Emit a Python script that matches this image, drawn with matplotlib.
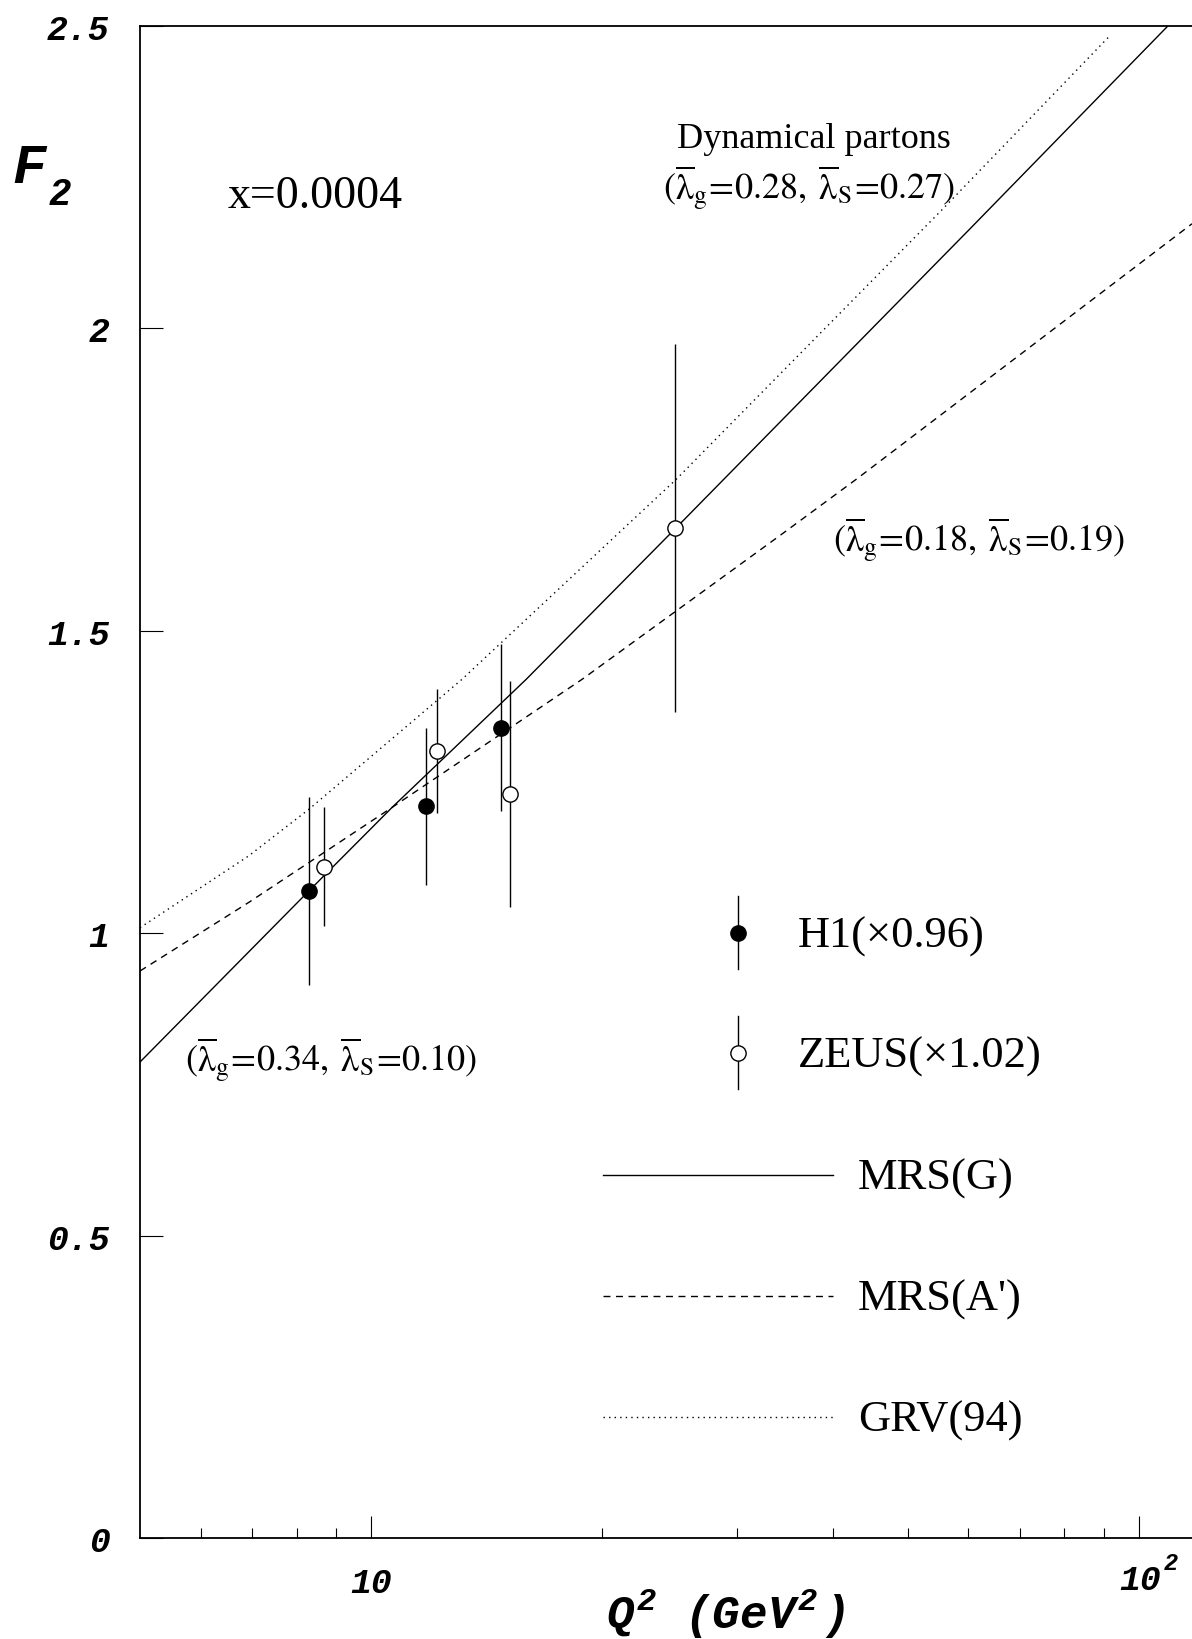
import matplotlib
matplotlib.use('Agg')
import matplotlib.pyplot as plt  # noqa: E402
from matplotlib.font_manager import FontProperties  # noqa: E402
from matplotlib.ticker import FixedLocator, FixedFormatter, NullFormatter  # noqa: E402

# --- fonts: serif body text, bold-italic mono for axis labels -----------------
plt.rcParams['font.family'] = ['Liberation Serif', 'DejaVu Serif']
plt.rcParams['mathtext.fontset'] = 'custom'
plt.rcParams['mathtext.rm'] = 'Liberation Mono:italic:bold'
plt.rcParams['mathtext.it'] = 'Liberation Mono:italic:bold'
plt.rcParams['mathtext.bf'] = 'Liberation Mono:italic:bold'

MONO = dict(family='Liberation Mono', weight='bold', style='italic')

# --- data ---------------------------------------------------------------------
# H1 (x0.96)
h1_q2 = [8.30, 11.79, 14.77]
h1_f2 = [1.070, 1.210, 1.340]
h1_err = [0.156, 0.130, 0.138]

# ZEUS (x1.02)
zeus_q2 = [8.69, 12.19, 15.19, 24.9]
zeus_f2 = [1.110, 1.301, 1.230, 1.670]
zeus_err = [0.098, 0.102, 0.187, 0.304]

# MRS(G), solid
mrsg_q2 = [5.0, 8.30, 10.65, 15.93, 24.95, 60.2, 109.1]
mrsg_f2 = [0.787, 1.070, 1.208, 1.420, 1.670, 2.164, 2.500]

# MRS(A'), dashed
mrsa_q2 = [5.0, 6.93, 10.65, 18.84, 34.04, 42.9, 117.3]
mrsa_f2 = [0.9375, 1.051, 1.208, 1.420, 1.657, 1.751, 2.173]

# GRV(94), dotted
grv_q2 = [5.0, 6.93, 8.30, 13.14, 24.95, 55.5, 91.7]
grv_f2 = [1.009, 1.128, 1.205, 1.420, 1.750, 2.197, 2.484]

y_ticks = [0, 0.5, 1, 1.5, 2, 2.5]
y_tick_labels = ['0', '0.5', '1', '1.5', '2', '2.5']
x_ticks = [10, 100]
x_tick_labels = ['10', '']
x_minor = [6, 7, 8, 9, 20, 30, 40, 50, 60, 70, 80, 90]

W, H = 1192, 1640


def fx(px):
    return px / W


def fy(py):
    return 1 - py / H


fig = plt.figure(figsize=(W / 100, H / 100), dpi=100)
ax = fig.add_axes([fx(140), fy(1539), 1052 / W, (1539 - 27) / H])

ax.set_xscale('log')
ax.set_xlim(5, 117.3)
ax.set_ylim(0, 2.5)

# curves
ax.plot(mrsg_q2, mrsg_f2, color='black', lw=1.0, ls='-')
ax.plot(mrsa_q2, mrsa_f2, color='black', lw=1.0, ls=(0, (5, 4)))
ax.plot(grv_q2, grv_f2, color='black', lw=1.0, ls=(0, (1, 3)))

# data points
ax.errorbar(h1_q2, h1_f2, yerr=h1_err, fmt='o', color='black', ms=11,
            mfc='black', mec='black', elinewidth=1.0, capsize=0, zorder=5)
ax.errorbar(zeus_q2, zeus_f2, yerr=zeus_err, fmt='o', color='black', ms=11,
            mfc='white', mec='black', mew=1.0, elinewidth=1.0, capsize=0, zorder=5)

# axes styling
for side in ['top', 'bottom', 'left']:
    ax.spines[side].set_linewidth(1.3)
ax.spines['right'].set_visible(False)

ax.yaxis.set_major_locator(FixedLocator(y_ticks))
ax.yaxis.set_major_formatter(FixedFormatter(y_tick_labels))
ax.xaxis.set_major_locator(FixedLocator(x_ticks))
ax.xaxis.set_major_formatter(FixedFormatter(x_tick_labels))
ax.xaxis.set_minor_locator(FixedLocator(x_minor))
ax.xaxis.set_minor_formatter(NullFormatter())
ax.yaxis.set_minor_locator(FixedLocator([]))

ax.tick_params(axis='y', which='major', direction='in', length=16.5, width=0.8,
               pad=22, right=False)
ax.tick_params(axis='x', which='major', direction='in', length=16, width=0.8,
               pad=20, top=False)
ax.tick_params(axis='x', which='minor', direction='in', length=7.2, width=0.8,
               top=False)
for lab in ax.get_yticklabels() + ax.get_xticklabels():
    lab.set_fontproperties(FontProperties(size=25, **MONO))

# 10^2 tick label, with the mantissa centred a little right of the tick
fig.text(fx(1140), fy(1581), '10', fontsize=25, ha='center', va='center', **MONO)
fig.text(fx(1164), fy(1570), '2', fontsize=17, ha='left', va='baseline', **MONO)

# axis titles
fig.text(fx(12), fy(183), 'F', fontsize=40, ha='left', va='baseline', **MONO)
fig.text(fx(49), fy(205), '2', fontsize=27, ha='left', va='baseline', **MONO)
fig.text(fx(726), fy(1614), r'$Q^{2}\quad(GeV^{2}\,)$', fontsize=33,
         ha='center', va='center')

# annotations
lam_fmt = (r'$(\overline{\mathrm{\lambda}}_{\mathrm{g}}\!=\!%s,\;'
           r'\overline{\mathrm{\lambda}}_{\mathrm{S}}\!=\!%s)$')
fig.text(fx(228), fy(208), 'x=0.0004', fontsize=33, ha='left', va='baseline')
fig.text(fx(677), fy(148), 'Dynamical partons', fontsize=26, ha='left', va='baseline')
fig.text(fx(663), fy(200), lam_fmt % ('0.28', '0.27'),
         fontsize=26, ha='left', va='baseline', math_fontfamily='stix')
fig.text(fx(833), fy(552), lam_fmt % ('0.18', '0.19'),
         fontsize=26, ha='left', va='baseline', math_fontfamily='stix')
fig.text(fx(185), fy(1072), lam_fmt % ('0.34', '0.10'),
         fontsize=26, ha='left', va='baseline', math_fontfamily='stix')

# legend, drawn by hand
tf = fig.transFigure
for py, face, label in [(934, 'black', 'H1(\u00d70.96)'),
                        (1054, 'white', 'ZEUS(\u00d71.02)')]:
    fig.lines.append(plt.Line2D([fx(738), fx(738)], [fy(py - 37), fy(py + 36)],
                                color='black', lw=1.0, transform=tf))
    fig.lines.append(plt.Line2D([fx(738)], [fy(py)], marker='o', ms=11, color='black',
                                mfc=face, mew=1.0, transform=tf))
    fig.text(fx(798), fy(py + 3), label, fontsize=32, ha='left', va='center')

for py, ls, label in [(1176, '-', 'MRS(G)'),
                      (1297, (0, (5, 4)), "MRS(A')"),
                      (1418, (0, (1, 3)), 'GRV(94)')]:
    fig.lines.append(plt.Line2D([fx(603), fx(833)], [fy(py), fy(py)], color='black',
                                lw=1.0, ls=ls, transform=tf))
    fig.text(fx(858), fy(py + 3), label, fontsize=32, ha='left', va='center')

fig.savefig('out.png', dpi=100)
plt.close(fig)
